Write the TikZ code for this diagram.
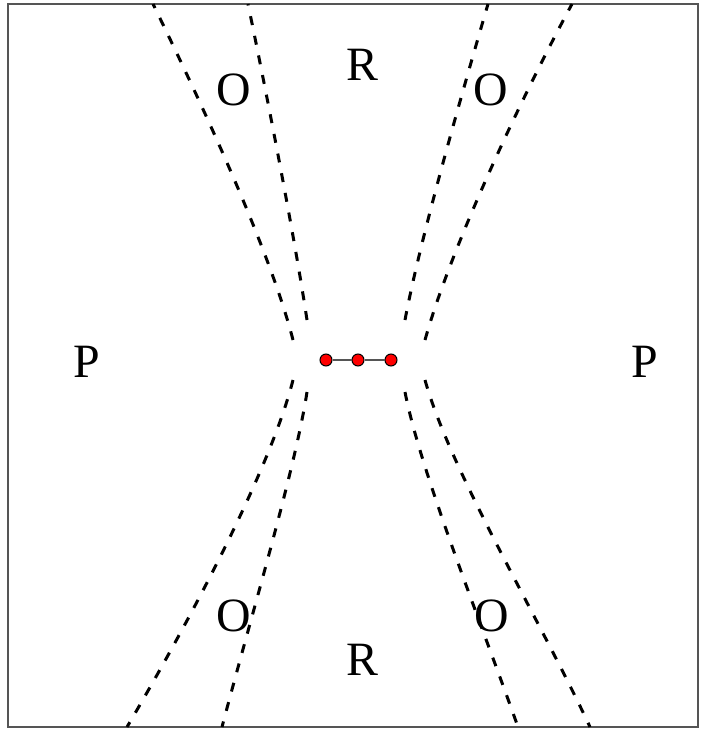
\documentclass[tikz,border=0pt]{standalone}
\usepackage{fontspec}
\setmainfont{Liberation Serif}
\usetikzlibrary{positioning}
\definecolor{regFrame}{HTML}{555555}
\definecolor{regDot}{HTML}{FF0000}
\definecolor{regLink}{HTML}{555555}

\begin{document}
\begin{tikzpicture}[
    x=1bp, y=-1bp,
    frame/.style={draw=regFrame, line width=1.5bp},
    boundary/.style={draw=black, line width=3bp, dash pattern=on 9bp off 11bp},
    site/.style={circle, draw=black, line width=1bp, fill=regDot, minimum size=12bp, inner sep=0pt},
    link/.style={draw=regLink, line width=1.5bp},
    region/.style={font=\fontsize{48}{56}\selectfont, inner sep=0pt},
]
\useasboundingbox (0,0) rectangle (702,730);

% Frame
\draw[frame] (8,4) rectangle (698,727);

% Upper boundaries
\draw[boundary] (293,340) .. controls (270,250) and (200,100) .. (153,4);
\draw[boundary] (307,320) .. controls (295,240) and (268,100) .. (248,4);
\draw[boundary] (405,320) .. controls (420,240) and (460,100) .. (488,4);
\draw[boundary] (425,340) .. controls (450,250) and (520,100) .. (572,4);

% Lower boundaries
\draw[boundary] (293,380) .. controls (270,470) and (190,620) .. (127,727);
\draw[boundary] (307,392) .. controls (295,470) and (250,620) .. (222,727);
\draw[boundary] (405,392) .. controls (420,470) and (480,620) .. (518,727);
\draw[boundary] (425,380) .. controls (450,470) and (540,620) .. (590,727);

% Sites
\node[site] (s1) at (326,360) {};
\node[site] (s2) at (358,360) {};
\node[site] (s3) at (391,360) {};
\draw[link] (s1) -- (s2);
\draw[link] (s2) -- (s3);

% Region labels
\node[region] (rTop) at (362,65) {R};
\node[region] (rBot) at (362,660) {R};
\node[region] (pLeft) at (87,362) {P};
\node[region] (pRight) at (645,362) {P};
\node[region] (oTL) at (234,90) {O};
\node[region] (oTR) at (491,90) {O};
\node[region] (oBL) at (234,616) {O};
\node[region] (oBR) at (492,616) {O};

\end{tikzpicture}
\end{document}
